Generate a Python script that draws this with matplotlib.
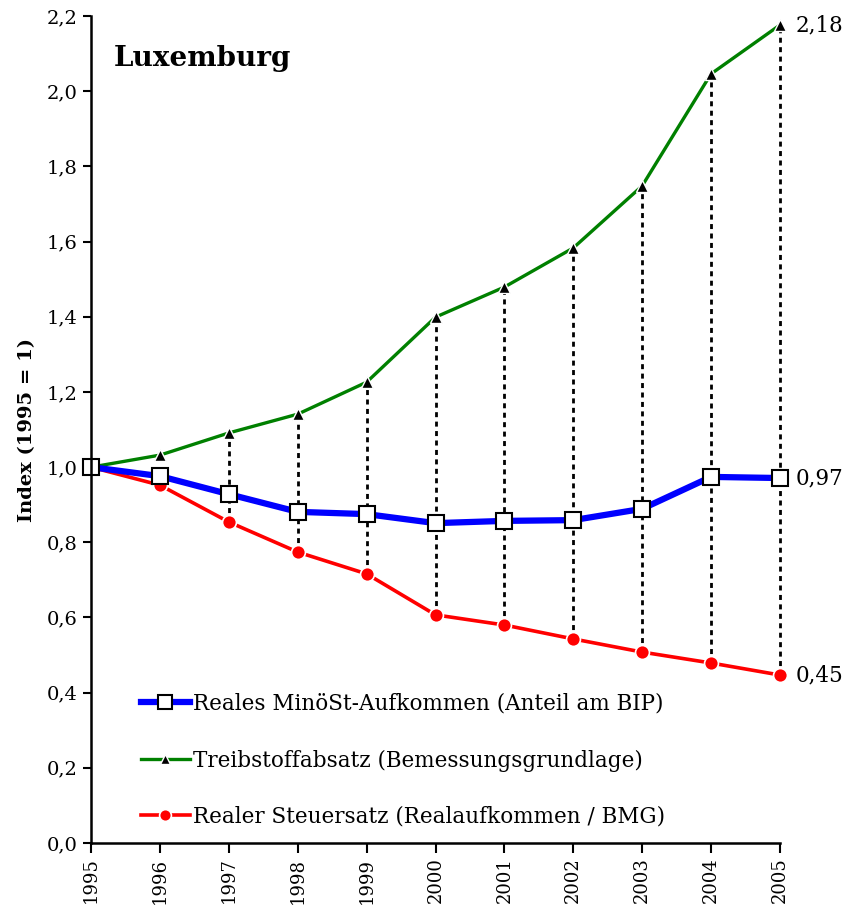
import matplotlib.pyplot as plt
import numpy as np
from matplotlib.ticker import FuncFormatter, MultipleLocator

years = np.arange(1995, 2006)
minoest = [1.0, 0.976, 0.928, 0.881, 0.875, 0.851, 0.857, 0.859, 0.889, 0.974, 0.971]
treibstoff = [1.0, 1.032, 1.091, 1.141, 1.226, 1.399, 1.479, 1.583, 1.748, 2.046, 2.176]
steuersatz = [1.0, 0.952, 0.854, 0.774, 0.716, 0.607, 0.580, 0.543, 0.508, 0.479, 0.447]

labels = ["Reales MinöSt-Aufkommen (Anteil am BIP)",
          "Treibstoffabsatz (Bemessungsgrundlage)",
          "Realer Steuersatz (Realaufkommen / BMG)"]

plt.rcParams['font.family'] = ['DejaVu Serif']

fig = plt.figure(figsize=(8.44, 9.11), dpi=100)
ax = fig.add_axes([0.108, 0.0746, 0.816, 0.9078])

# dotted connectors from red to green
for i in range(2, len(years)):
    ax.plot([years[i], years[i]], [steuersatz[i], treibstoff[i]], color="black",
            linestyle=(0, (1.8, 1.6)), lw=2.0, zorder=1, clip_on=False)

ax.plot(years, minoest, color="#0000ff", lw=4.5, marker="s", markersize=12,
        markerfacecolor="white", markeredgecolor="black", markeredgewidth=1.5,
        label=labels[0], zorder=4, clip_on=False)
ax.plot(years, treibstoff, color="#008000", lw=2.4, marker="^", markersize=8,
        markerfacecolor="black", markeredgecolor="white", markeredgewidth=1.0,
        label=labels[1], zorder=3, clip_on=False)
ax.plot(years, steuersatz, color="#ff0000", lw=2.6, marker="o", markersize=10,
        markerfacecolor="#ff0000", markeredgecolor="white", markeredgewidth=1.2,
        label=labels[2], zorder=3, clip_on=False)

ax.set_xlim(1995, 2005)
ax.set_ylim(0, 2.2)
ax.yaxis.set_major_locator(MultipleLocator(0.2))
ax.yaxis.set_major_formatter(FuncFormatter(lambda v, p: f"{v:.1f}".replace(".", ",")))
ax.set_xticks(years)
ax.set_xticklabels([str(y) for y in years], rotation=90)
ax.tick_params(axis="both", direction="out", length=7, width=1.5, labelsize=14)
ax.tick_params(axis="x", labelsize=13)
ax.tick_params(axis="y", length=6)
for s in ["top", "right"]:
    ax.spines[s].set_visible(False)
for s in ["left", "bottom"]:
    ax.spines[s].set_linewidth(1.8)
ax.spines["left"].set_zorder(5)
ax.spines["bottom"].set_zorder(5)

ax.set_ylabel("Index (1995 = 1)", fontsize=14, fontweight="bold", labelpad=8)
ax.text(0.033, 0.965, "Luxemburg", transform=ax.transAxes, fontsize=20,
        fontweight="bold", va="top", ha="left")

for val in [treibstoff[-1], minoest[-1], steuersatz[-1]]:
    ax.annotate(f"{val:.2f}".replace(".", ","), (years[-1], val), xytext=(11, 0),
                textcoords="offset points", va="center", ha="left", fontsize=15.5,
                annotation_clip=False)

leg = ax.legend(loc="lower left", bbox_to_anchor=(0.05, 0.0), frameon=False,
                fontsize=15.5, handlelength=2.3, handletextpad=0.15, labelspacing=1.6,
                borderaxespad=0.3, markerscale=0.85)

fig.savefig("out.png", dpi=100)
